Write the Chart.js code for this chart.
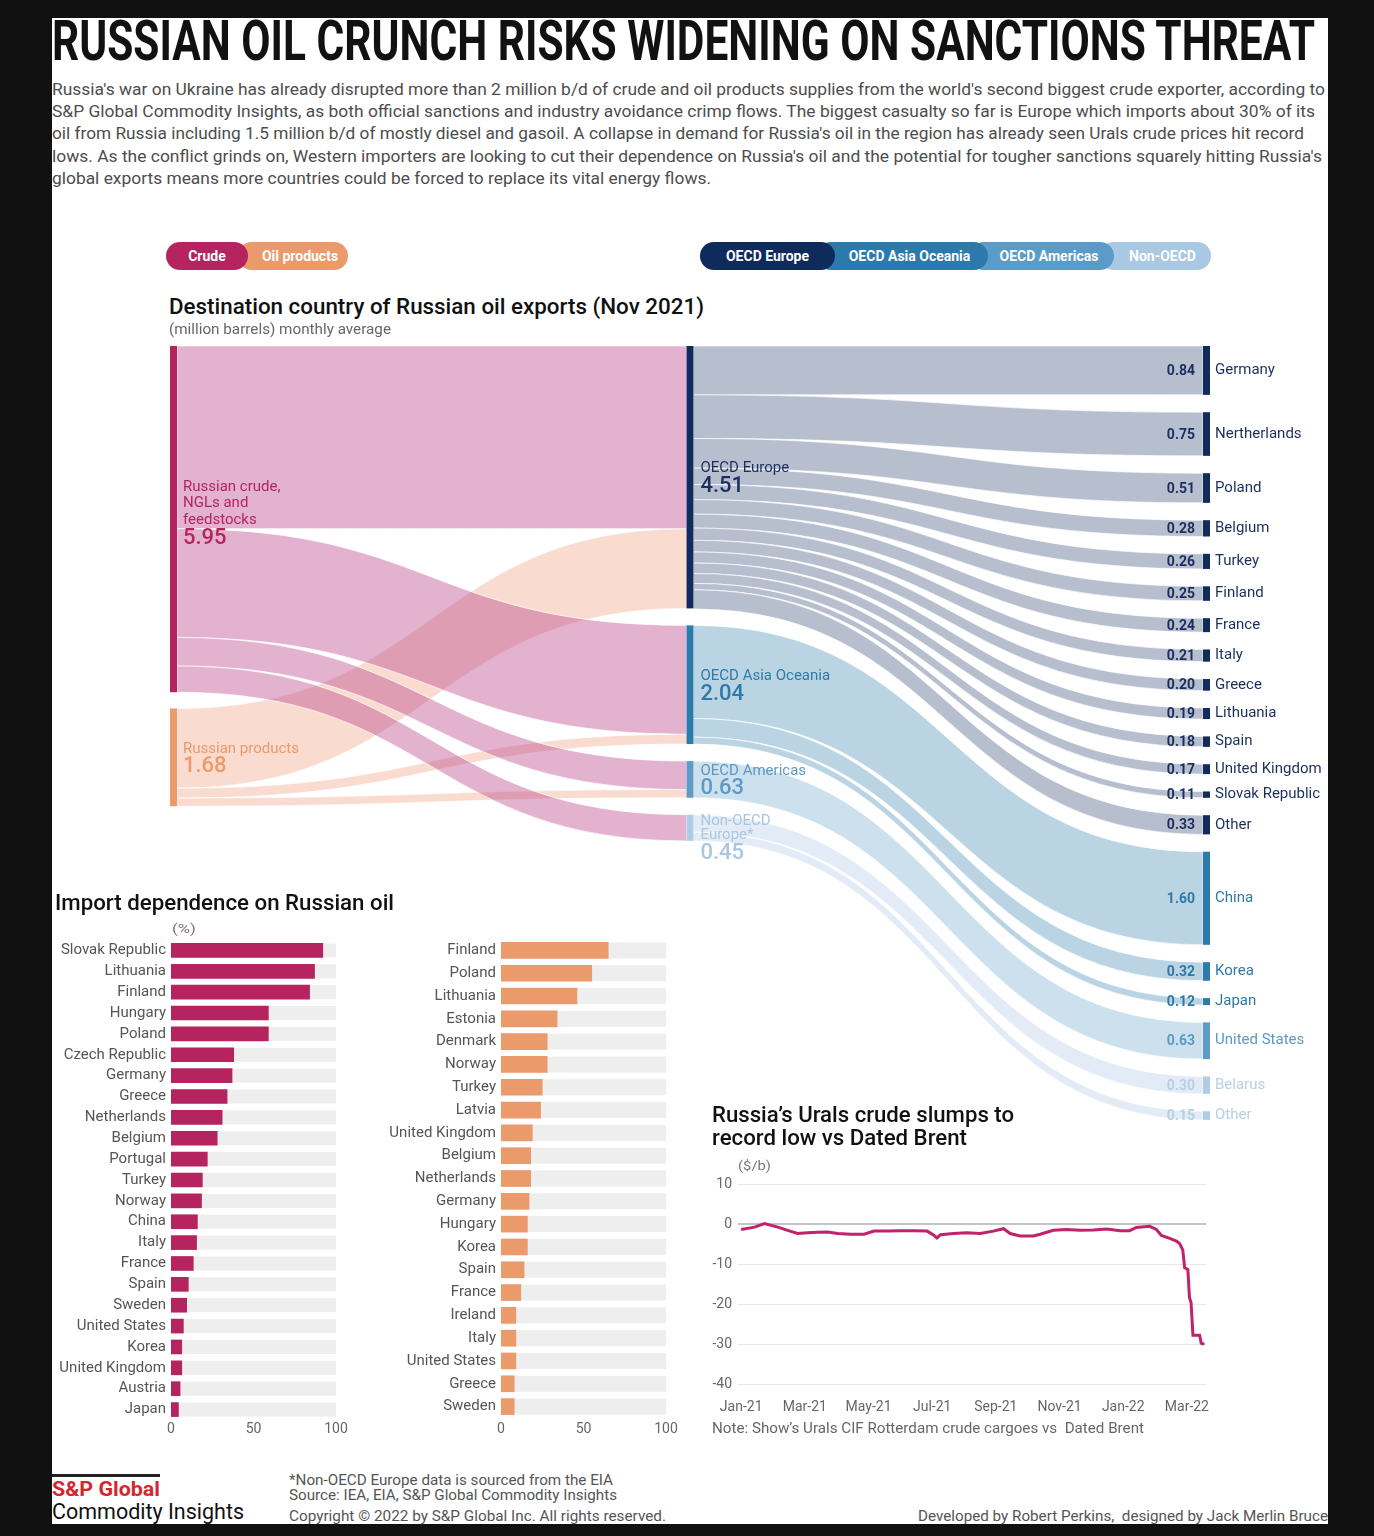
<!DOCTYPE html>
<html>
<head>
<meta charset="utf-8">
<script src="https://cdn.jsdelivr.net/npm/chart.js@4/dist/chart.umd.min.js"></script>
<style>
  html, body { margin:0; padding:0; }
  body { width:1374px; height:1536px; background:#111; position:relative; overflow:hidden; font-family: Roboto, "Open Sans", sans-serif; }
  #panel { position:absolute; left:52px; top:18px; width:1276px; height:1506px; background:#fff; }
  canvas { position:absolute; }
  .t { position:absolute; white-space:nowrap; line-height:1.2; transform-origin:0 50%; }
  .pill { position:absolute; height:28px; top:242px; border-radius:14px; color:#fff; font-weight:700; font-size:14px; line-height:28px; text-align:center; box-sizing:border-box; }
</style>
</head>
<body>
<div id="panel"></div>
<canvas id="sankey" width="1276" height="800" style="left:52px;top:330px"></canvas>
<canvas id="barCrude" width="300" height="502" style="left:52px;top:940px"></canvas>
<canvas id="barProducts" width="302" height="501" style="left:380px;top:939px"></canvas>
<canvas id="urals" width="530" height="250" style="left:690px;top:1170px"></canvas>
<div id="texts"></div>
<div style="position:absolute;left:52px;top:1474px;width:108px;height:3px;background:#222"></div>
<script>
// ---------------- DATA ----------------
const sourceNames = [['Russian crude,', 'NGLs and', 'feedstocks'], ['Russian products']];
const sourceValues = [5.95, 1.68];
const regionNames = [['OECD Europe'], ['OECD Asia Oceania'], ['OECD Americas'], ['Non-OECD', 'Europe*']];
const regionValues = [4.51, 2.04, 0.63, 0.45];
const crudeToRegion = [3.14, 1.87, 0.49, 0.45];
const productsToRegion = [1.37, 0.17, 0.14, 0];
const countryNames = ['Germany', 'Nertherlands', 'Poland', 'Belgium', 'Turkey', 'Finland', 'France', 'Italy', 'Greece', 'Lithuania', 'Spain', 'United Kingdom', 'Slovak Republic', 'Other', 'China', 'Korea', 'Japan', 'United States', 'Belarus', 'Other'];
const countryValues = [0.84, 0.75, 0.51, 0.28, 0.26, 0.25, 0.24, 0.21, 0.20, 0.19, 0.18, 0.17, 0.11, 0.33, 1.60, 0.32, 0.12, 0.63, 0.30, 0.15];
const countryRegion = [0, 0, 0, 0, 0, 0, 0, 0, 0, 0, 0, 0, 0, 0, 1, 1, 1, 2, 3, 3];

const crudeCountries = ['Slovak Republic', 'Lithuania', 'Finland', 'Hungary', 'Poland', 'Czech Republic', 'Germany', 'Greece', 'Netherlands', 'Belgium', 'Portugal', 'Turkey', 'Norway', 'China', 'Italy', 'France', 'Spain', 'Sweden', 'United States', 'Korea', 'United Kingdom', 'Austria', 'Japan'];
const crudeShare = [92, 87, 84, 59, 59, 38, 37, 34, 31, 28, 22, 19, 18.5, 16, 15.5, 13.5, 10.5, 9.5, 7.5, 6.5, 6.5, 5.5, 4.5];
const productCountries = ['Finland', 'Poland', 'Lithuania', 'Estonia', 'Denmark', 'Norway', 'Turkey', 'Latvia', 'United Kingdom', 'Belgium', 'Netherlands', 'Germany', 'Hungary', 'Korea', 'Spain', 'France', 'Ireland', 'Italy', 'United States', 'Greece', 'Sweden'];
const productShare = [65, 55, 46, 34, 28, 28, 25, 24, 19, 18, 18, 17, 16, 16, 14, 12, 9, 9, 9, 8, 8];
const shareTicks = [0, 50, 100];

const uralsMonth = [0, 0.42, 0.73, 1.15, 1.46, 1.77, 2.09, 2.4, 2.71, 3.03, 3.44, 3.86, 4.17, 4.59, 5.01, 5.42, 5.84, 6.05, 6.15, 6.26, 6.67, 7.09, 7.51, 7.92, 8.24, 8.45, 8.76, 9.18, 9.39, 9.81, 10.22, 10.64, 11.06, 11.48, 11.9, 12.2, 12.41, 12.83, 13.04, 13.2, 13.46, 13.67, 13.77, 13.87, 13.93, 14.03, 14.08, 14.13, 14.19, 14.4, 14.45, 14.55];
const uralsSpread = [-1.3, -0.7, 0.2, -0.7, -1.5, -2.3, -2.1, -2.0, -1.9, -2.3, -2.5, -2.5, -1.7, -1.7, -1.6, -1.6, -1.7, -2.7, -3.4, -2.6, -2.3, -2.1, -2.3, -1.7, -1.1, -2.3, -2.9, -2.9, -2.5, -1.5, -1.3, -1.5, -1.4, -1.2, -1.6, -1.6, -0.8, -0.5, -1.3, -2.8, -3.5, -4.2, -4.8, -6.4, -10.9, -11.3, -18.3, -19.6, -27.8, -27.8, -29.8, -30.0];
const monthTickPos = [0, 2, 4, 6, 8, 10, 12, 14];
const monthTickLabels = ['Jan-21', 'Mar-21', 'May-21', 'Jul-21', 'Sep-21', 'Nov-21', 'Jan-22', 'Mar-22'];
const spreadTicks = [10, 0, -10, -20, -30, -40];

// ---------------- STYLES ----------------
const sourceColors = ['#b5245f', '#eb9a6c'];
const sourceFlowColors = ['rgba(183,63,135,0.40)', 'rgba(236,150,108,0.33)'];
const regionColors = ['#112b5c', '#2d7bab', '#5e9cc7', '#b1cde6'];
const regionLabelColors = ['#1b2f5f', '#2f7aa8', '#5c99c4', '#a9c7e2'];
const regionFlowColors = ['rgba(23,45,95,0.31)', 'rgba(47,125,170,0.33)', 'rgba(94,156,199,0.31)', 'rgba(150,185,220,0.27)'];
const countryLabelColors = ['#1b2f5f', '#2f7aa8', '#5c99c4', '#b8cfe6'];
const sourceLabelShift = [-7, 0];
const regionLabelShift = [0, 0, 0, 9];
const COLUMN_GAPS = [0.28, 0.292, 0.298];
const NODE_W = 7;

Chart.defaults.font.family = 'Roboto, "Open Sans", sans-serif';
Chart.defaults.devicePixelRatio = 1;

// ---------------- SANKEY ----------------
function layoutColumn(values, gap) {
  let c = 0;
  return values.map(v => { const n = { v, y0: c, y1: c + v }; c = n.y1 + gap; return n; });
}
function drawLink(ctx, x0, x1, a0, b0, a1, b1, color) {
  const xm = (x0 + x1) / 2;
  ctx.beginPath();
  ctx.moveTo(x0, a0);
  ctx.bezierCurveTo(xm, a0, xm, a1, x1, a1);
  ctx.lineTo(x1, b1);
  ctx.bezierCurveTo(xm, b1, xm, b0, x0, b0);
  ctx.closePath();
  ctx.fillStyle = color;
  ctx.fill();
  ctx.strokeStyle = 'rgba(255,255,255,0.85)';
  ctx.lineWidth = 0.8;
  ctx.stroke();
}
function drawNodeLabel(ctx, x, yc, lines, valueText, color) {
  const lh = lines.length > 2 ? 16.5 : 14, vgap = 17;
  const block = (lines.length - 1) * lh + vgap;
  let y = yc - block / 2;
  ctx.fillStyle = color;
  ctx.textAlign = 'left';
  ctx.textBaseline = 'middle';
  ctx.font = '15px Roboto';
  lines.forEach((l, i) => ctx.fillText(l, x, y + i * lh));
  ctx.font = '500 22px Roboto';
  ctx.fillText(valueText, x, y + (lines.length - 1) * lh + vgap + 1);
}
const sankeyPlugin = {
  id: 'sankeyDraw',
  afterDatasetsDraw(chart) {
    const { ctx, scales: { x, y } } = chart;
    const src = layoutColumn(sourceValues, COLUMN_GAPS[0]);
    const reg = layoutColumn(regionValues, COLUMN_GAPS[1]);
    const cty = layoutColumn(countryValues, COLUMN_GAPS[2]);
    const X0 = x.getPixelForValue(0), X1 = x.getPixelForValue(1), X2 = x.getPixelForValue(2);
    const py = v => y.getPixelForValue(v);
    ctx.save();
    // left -> middle links
    const srcOut = src.map(n => n.y0), regIn = reg.map(n => n.y0);
    const flowsBySource = [crudeToRegion, productsToRegion];
    const links1 = [];
    regionValues.forEach((_, r) => {
      flowsBySource.forEach((row, s) => {
        const v = row[r];
        if (!v) return;
        links1.push({ s, a0: srcOut[s], b0: srcOut[s] + v, a1: regIn[r], b1: regIn[r] + v });
        srcOut[s] += v; regIn[r] += v;
      });
    });
    [1, 0].forEach(s => links1.filter(l => l.s === s).forEach(l =>
      drawLink(ctx, X0 + NODE_W, X1, py(l.a0), py(l.b0), py(l.a1), py(l.b1), sourceFlowColors[s])));
    // middle -> right links
    const regOut = reg.map(n => n.y0);
    countryValues.forEach((v, k) => {
      const r = countryRegion[k];
      drawLink(ctx, X1 + NODE_W, X2, py(regOut[r]), py(regOut[r] + v), py(cty[k].y0), py(cty[k].y1), regionFlowColors[r]);
      regOut[r] += v;
    });
    // nodes
    src.forEach((n, i) => { ctx.fillStyle = sourceColors[i]; ctx.fillRect(X0, py(n.y0), NODE_W, py(n.y1) - py(n.y0)); });
    reg.forEach((n, i) => { ctx.fillStyle = regionColors[i]; ctx.fillRect(X1, py(n.y0), NODE_W, py(n.y1) - py(n.y0)); });
    cty.forEach((n, k) => { ctx.fillStyle = regionColors[countryRegion[k]]; ctx.fillRect(X2, py(n.y0), NODE_W, py(n.y1) - py(n.y0)); });
    // labels
    src.forEach((n, i) => drawNodeLabel(ctx, X0 + 13, (py(n.y0) + py(n.y1)) / 2 + sourceLabelShift[i], sourceNames[i], n.v.toFixed(2), sourceColors[i]));
    reg.forEach((n, i) => drawNodeLabel(ctx, X1 + 14, (py(n.y0) + py(n.y1)) / 2 + regionLabelShift[i], regionNames[i], n.v.toFixed(2), regionLabelColors[i]));
    cty.forEach((n, k) => {
      const yc = (py(n.y0) + py(n.y1)) / 2;
      const col = countryLabelColors[countryRegion[k]];
      ctx.fillStyle = col;
      ctx.textBaseline = 'middle';
      ctx.textAlign = 'right';
      ctx.font = '700 14px Roboto';
      ctx.fillText(n.v.toFixed(2), X2 - 8, yc + 1);
      ctx.textAlign = 'left';
      ctx.font = '15px Roboto';
      ctx.fillText(countryNames[k], X2 + 12, yc);
    });
    ctx.restore();
  }
};
new Chart(document.getElementById('sankey'), {
  type: 'scatter',
  data: { datasets: [{ data: [] }] },
  options: {
    responsive: false, animation: false, events: [],
    layout: { padding: { left: 118, right: 125, top: 16, bottom: 16 } },
    plugins: { legend: { display: false }, tooltip: { enabled: false } },
    scales: {
      x: { type: 'linear', min: 0, max: 2, display: false },
      y: { type: 'linear', min: 0, max: 13.2, reverse: true, display: false }
    }
  },
  plugins: [sankeyPlugin]
});

// ---------------- BAR CHARTS ----------------
const trackPlugin = {
  id: 'track',
  beforeDatasetsDraw(chart, args, opts) {
    const { ctx, scales: { x, y } } = chart;
    ctx.save();
    ctx.fillStyle = opts.color;
    const left = x.getPixelForValue(x.min), right = x.getPixelForValue(x.max);
    chart.data.labels.forEach((_, i) => {
      const cy = y.getPixelForValue(i);
      ctx.fillRect(left, cy - opts.thickness / 2, right - left, opts.thickness);
    });
    ctx.restore();
  }
};
function barChart(id, labels, values, color, thick, yWidth, tickPad) {
  new Chart(document.getElementById(id), {
    type: 'bar',
    data: { labels, datasets: [{ data: values, backgroundColor: color, barThickness: thick, borderWidth: 0 }] },
    options: {
      indexAxis: 'y', responsive: false, animation: false, events: [],
      layout: { padding: { left: 0, right: 16, top: 0, bottom: 0 } },
      plugins: { legend: { display: false }, tooltip: { enabled: false }, track: { color: '#eeeeee', thickness: thick } },
      scales: {
        x: {
          min: 0, max: 100,
          afterBuildTicks: s => { s.ticks = shareTicks.map(v => ({ value: v })); },
          ticks: { color: '#666', font: { size: 14 }, padding: tickPad, maxRotation: 0 },
          grid: { display: false, drawTicks: false }, border: { display: false },
          afterFit: s => { s.height = 22; }
        },
        y: {
          ticks: { color: '#555', font: { size: 15 }, padding: 5, autoSkip: false },
          grid: { display: false, drawTicks: false }, border: { display: false },
          afterFit: s => { s.width = yWidth; s.paddingTop = 0; s.paddingBottom = 0; }
        }
      }
    },
    plugins: [trackPlugin]
  });
}
barChart('barCrude', crudeCountries, crudeShare, '#b5245f', 14, 119, 1);
barChart('barProducts', productCountries, productShare, '#eb9a6c', 16, 121, 3);

// ---------------- LINE CHART ----------------
new Chart(document.getElementById('urals'), {
  type: 'line',
  data: { datasets: [{ data: uralsMonth.map((m, i) => ({ x: m, y: uralsSpread[i] })), borderColor: '#c2216b', borderWidth: 3, pointRadius: 0, tension: 0, fill: false }] },
  options: {
    responsive: false, animation: false, events: [],
    layout: { padding: { left: 0, right: 14, top: 12, bottom: 0 } },
    plugins: { legend: { display: false }, tooltip: { enabled: false } },
    scales: {
      x: {
        type: 'linear', min: -0.1, max: 14.6,
        afterBuildTicks: s => { s.ticks = monthTickPos.map(v => ({ value: v })); },
        ticks: { color: '#666', font: { size: 14 }, padding: 15, maxRotation: 0, autoSkip: false,
          callback: v => monthTickLabels[monthTickPos.indexOf(v)] },
        grid: { display: false, drawTicks: false }, border: { display: false },
        afterFit: s => { s.height = 36; s.paddingLeft = 0; s.paddingRight = 0; }
      },
      y: {
        min: -40, max: 10,
        afterBuildTicks: s => { s.ticks = spreadTicks.map(v => ({ value: v })); },
        ticks: { color: '#666', font: { size: 14 }, padding: 6 },
        grid: { drawTicks: false, color: c => c.tick && c.tick.value === 0 ? '#c4c4c4' : '#e8e8e8', lineWidth: c => c.tick && c.tick.value === 0 ? 2 : 1 },
        border: { display: false },
        afterFit: s => { s.width = 48; }
      }
    }
  }
});

// ---------------- TEXT ----------------
const texts = [
  ['RUSSIAN OIL CRUNCH RISKS WIDENING ON SANCTIONS THREAT', 52, 42, 56, 700, '#111', 1263],
  ["Russia's war on Ukraine has already disrupted more than 2 million b/d of crude and oil products supplies from the world's second biggest crude exporter, according to", 52, 89, 17, 400, '#4d4d4d', 1273],
  ['S&P Global Commodity Insights, as both official sanctions and industry avoidance crimp flows. The biggest casualty so far is Europe which imports about 30% of its', 52, 111, 17, 400, '#4d4d4d', 1263],
  ["oil from Russia including 1.5 million b/d of mostly diesel and gasoil. A collapse in demand for Russia's oil in the region has already seen Urals crude prices hit record", 52, 133, 17, 400, '#4d4d4d', 1252],
  ["lows. As the conflict grinds on, Western importers are looking to cut their dependence on Russia's oil and the potential for tougher sanctions squarely hitting Russia's", 52, 156, 17, 400, '#4d4d4d', 1270],
  ['global exports means more countries could be forced to replace its vital energy flows.', 52, 178, 17, 400, '#4d4d4d', 659],
  ['Destination country of Russian oil exports (Nov 2021)', 169, 307, 22, 500, '#111', 535],
  ['(million barrels) monthly average', 169, 329, 14, 400, '#666', 222],
  ['Import dependence on Russian oil', 55, 903, 22, 500, '#111', 339],
  ['(%)', 172, 929, 13, 400, '#777', 24],
  ['Russia\u2019s Urals crude slumps to', 712, 1115, 22, 500, '#111', 302],
  ['record low vs Dated Brent', 712, 1138, 22, 500, '#111', 255],
  ['($/b)', 738, 1166, 13, 400, '#777', 33],
  ['Note: Show\u2019s Urals CIF Rotterdam crude cargoes vs  Dated Brent', 712, 1428, 15, 400, '#666', 432],
  ['S&P Global', 52, 1489, 20, 700, '#d6262d', 108],
  ['Commodity Insights', 52, 1512, 22, 400, '#111', 192],
  ['*Non-OECD Europe data is sourced from the EIA', 289, 1480, 15, 400, '#555', 324],
  ['Source: IEA, EIA, S&P Global Commodity Insights', 289, 1495, 15, 400, '#555', 328],
  ['Copyright \u00a9 2022 by S&P Global Inc. All rights reserved.', 289, 1516, 15, 400, '#555', 377],
  ['Developed by Robert Perkins,  designed by Jack Merlin Bruce', 918, 1516, 15, 400, '#555', 410]
];
const holder = document.getElementById('texts');
texts.forEach(([s, x, cy, f, w, c, tw]) => {
  const d = document.createElement('div');
  d.className = 't';
  d.textContent = s;
  d.style.cssText += `left:${x}px;top:${cy - 0.6 * f}px;font-size:${f}px;font-weight:${w};color:${c};white-space:pre;`;
  d.dataset.w = tw;
  holder.appendChild(d);
});
// legend pills
const pills = [
  ['Oil products', 238, 110, '#eb9a6c', 1, 14],
  ['Crude', 166, 82, '#b5245f', 2, 0],
  ['Non-OECD', 1100, 111, '#a9c8e4', 1, 14],
  ['OECD Americas', 970, 144, '#5b9bc7', 2, 14],
  ['OECD Asia Oceania', 817, 171, '#2b7aab', 3, 14],
  ['OECD Europe', 700, 135, '#0f2b5b', 4, 0]
];
pills.forEach(([s, x, w, bg, z, pl]) => {
  const d = document.createElement('div');
  d.className = 'pill';
  d.textContent = s;
  d.style.cssText += `left:${x}px;width:${w}px;background:${bg};z-index:${z};padding-left:${pl}px;`;
  holder.appendChild(d);
});
function fitAll() {
  document.querySelectorAll('[data-w]').forEach(el => {
    el.style.transform = 'none';
    const w = el.getBoundingClientRect().width;
    el.style.transform = `scaleX(${(+el.dataset.w / w).toFixed(4)})`;
  });
}
fitAll();
if (document.fonts && document.fonts.ready) document.fonts.ready.then(fitAll);
</script>
</body>
</html>
